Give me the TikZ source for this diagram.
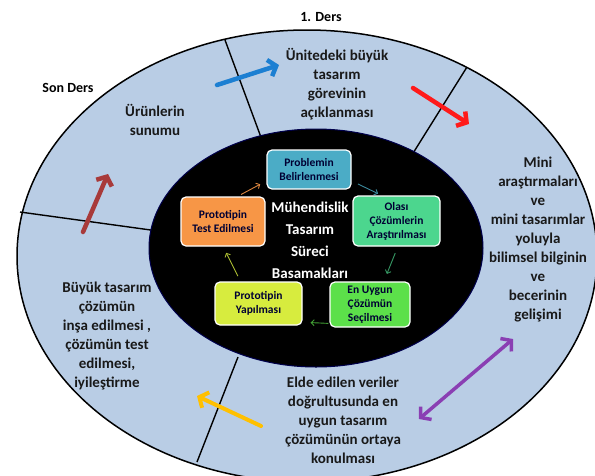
\documentclass[tikz,border=0pt]{standalone}
\usepackage{fontspec}
\setmainfont{Carlito}
\usetikzlibrary{arrows.meta}
\definecolor{ringblue}{HTML}{B9CDE5}
\definecolor{probblue}{HTML}{4BACC6}
\definecolor{olasigreen}{HTML}{4CD68E}
\definecolor{secimgreen}{HTML}{5CE04A}
\definecolor{yapimyellow}{HTML}{D7EC3E}
\definecolor{testorange}{HTML}{F79646}
\definecolor{arrblue}{HTML}{1C7FD2}
\definecolor{arrred}{HTML}{FF1A1A}
\definecolor{arrpurple}{HTML}{8A3FB3}
\definecolor{arryellow}{HTML}{FFC000}
\definecolor{arrbrown}{HTML}{A83A3A}
\tikzset{
  ringtext/.style={align=center, text=black!90, font=\bfseries\fontsize{15}{19}\selectfont},
  derstext/.style={font=\bfseries\fontsize{14}{16}\selectfont},
  stepbox/.style={draw=white, line width=1.2pt, rounded corners=5pt, align=center,
    inner sep=1pt, text=black!80!blue, font=\bfseries\fontsize{11.5}{14}\selectfont},
  bigarrow/.style={line width=4.5pt, line cap=round, -{Straight Barb[length=7pt,width=17pt]}},
  smallarrow/.style={line width=0.9pt, -{Straight Barb[length=3pt,width=6pt]}},
  divider/.style={line width=1.4pt, black}
}
\begin{document}
\begin{tikzpicture}[x=1pt,y=-1pt]
\useasboundingbox (0,0) rectangle (595,475);
\begin{scope}
\clip (0,0) rectangle (595,475);
%%% outer ring and dividers
\fill[ringblue] (307,256) ellipse [x radius=290pt, y radius=226pt];
\draw[divider] (225,40) -- (262,140);
\draw[divider] (467,67) -- (410,158);
\draw[divider] (20,212) -- (158,231);
\draw[divider] (238,357) -- (197,462);
\draw[line width=1.5pt] (307,256) ellipse [x radius=290pt, y radius=226pt];
%%% inner black ellipse
\draw[fill=black, draw=blue!30!black, line width=1pt] (316,248) ellipse [x radius=167pt, y radius=119pt];
\end{scope}
%%% labels outside
\node[derstext] (ders1) at (321,17) {1. Ders};
\node[derstext] (sonders) at (68,88) {Son Ders};
%%% ring texts
\node[ringtext] (urun) at (155,120) {Ürünlerin\\sunumu};
\node[ringtext] (unite) at (337,84) {Ünitedeki büyük\\tasarım\\görevinin\\açıklanması};
\node[ringtext] (mini) at (538,240) {Mini\\araştırmaları\\ve\\mini tasarımlar\\yoluyla\\bilimsel bilginin\\ve\\becerinin\\gelişimi};
\node[ringtext] (elde) at (343,420) {Elde edilen veriler\\doğrultusunda en\\uygun tasarım\\çözümünün ortaya\\konulması};
\node[ringtext] (buyuk) at (107,336) {Büyük tasarım\\çözümün\\inşa edilmesi ,\\çözümün test\\edilmesi,\\iyileştirme};
%%% center title
\node[align=center, text=white, font=\bfseries\fontsize{15}{22}\selectfont] (baslik) at (310,240)
{Mühendislik\\Tasarım\\Süreci\\Basamakları};
%%% steps
\node[stepbox, fill=probblue, minimum width=84pt, minimum height=39pt] (prob) at (309,169.5) {Problemin\\Belirlenmesi};
\node[stepbox, fill=olasigreen, minimum width=87pt, minimum height=50pt] (olasi) at (396.5,221) {Olası\\Çözümlerin\\Araştırılması};
\node[stepbox, fill=secimgreen, minimum width=80pt, minimum height=45pt] (secim) at (370,304.5) {En Uygun\\Çözümün\\Seçilmesi};
\node[stepbox, fill=yapimyellow, minimum width=87pt, minimum height=43pt] (yapim) at (258.5,303.5) {Prototipin\\Yapılması};
\node[stepbox, fill=testorange, minimum width=84pt, minimum height=49pt] (test) at (223,221.5) {Prototipin\\Test Edilmesi};
%%% step arrows
\draw[smallarrow, testorange!90!black, shorten <=4pt, shorten >=7pt] (test.60) -- (prob.195);
\draw[smallarrow, probblue!80!black, shorten <=7pt, shorten >=4pt] (prob.345) -- (olasi.120);
\draw[smallarrow, olasigreen!70!black, shorten <=7pt, shorten >=8pt] (olasi.273) -- (secim.59);
\draw[smallarrow, secimgreen!70!black, shorten <=1pt, shorten >=8pt] (secim.205) -- (yapim.337);
\draw[smallarrow, yapimyellow!80!black, shorten <=6pt, shorten >=7pt] (yapim.129) -- (test.270);
%%% big arrows
\coordinate (blueA) at (217,85);   \coordinate (blueB) at (279,65);
\coordinate (redA) at (413,88);    \coordinate (redB) at (469,124);
\coordinate (purpA) at (419,419);  \coordinate (purpB) at (513,339);
\coordinate (yelA) at (261,426);   \coordinate (yelB) at (197,396);
\coordinate (brA) at (83,232);     \coordinate (brB) at (108,174);
\draw[bigarrow, arrblue] (blueA) -- (blueB);
\draw[bigarrow, arrred] (redA) -- (redB);
\draw[bigarrow, arrpurple, line width=3.5pt, {Straight Barb[length=7pt,width=17pt]}-{Straight Barb[length=7pt,width=17pt]}] (purpA) -- (purpB);
\draw[bigarrow, arryellow, line width=4pt] (yelA) -- (yelB);
\draw[bigarrow, arrbrown] (brA) -- (brB);
\end{tikzpicture}
\end{document}
